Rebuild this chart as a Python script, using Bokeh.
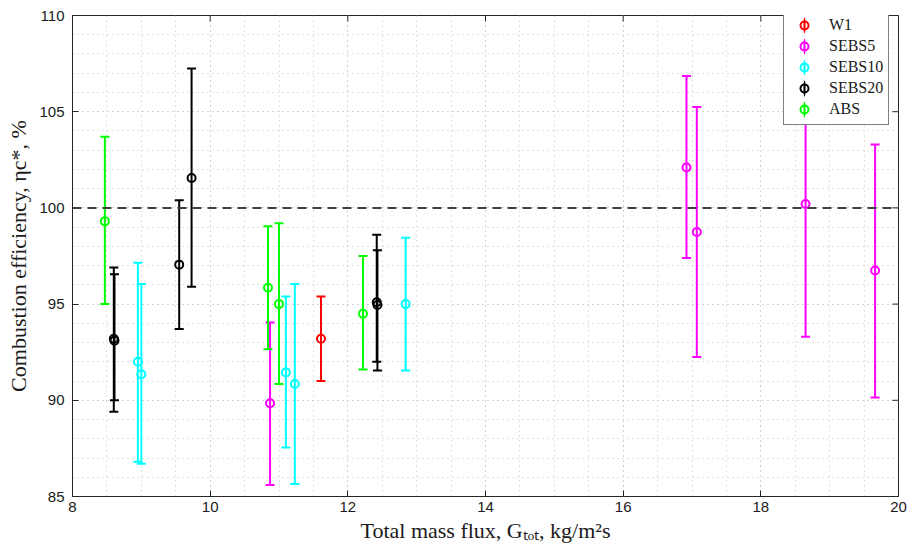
import math
from bokeh.plotting import figure
from bokeh.models import (ColumnDataSource, Span, Legend, LegendItem,
                          FixedTicker, Range1d)
from bokeh.embed import file_html
from bokeh.resources import INLINE

# ---- data ----
w1_x = [11.61]
w1_y = [93.2]
w1_lo = [91.0]
w1_hi = [95.4]

sebs5_x = [10.87, 16.92, 17.07, 18.65, 19.66]
sebs5_y = [89.85, 102.1, 98.75, 100.2, 96.75]
sebs5_lo = [85.6, 97.4, 92.25, 93.3, 90.15]
sebs5_hi = [94.05, 106.85, 105.25, 107.1, 103.3]

sebs10_x = [8.95, 9.0, 11.1, 11.23, 12.84]
sebs10_y = [92.0, 91.35, 91.45, 90.85, 95.0]
sebs10_lo = [86.8, 86.7, 87.55, 85.65, 91.55]
sebs10_hi = [97.15, 96.05, 95.4, 96.05, 98.45]

sebs20_x = [8.6, 8.61, 9.55, 9.73, 12.42, 12.43]
sebs20_y = [93.2, 93.1, 97.05, 101.55, 95.1, 94.95]
sebs20_lo = [89.4, 90.0, 93.7, 95.9, 92.0, 91.55]
sebs20_hi = [96.9, 96.55, 100.4, 107.25, 98.6, 97.8]

abs_x = [8.47, 10.84, 11.0, 12.22]
abs_y = [99.3, 95.85, 95.0, 94.5]
abs_lo = [95.0, 92.65, 90.85, 91.6]
abs_hi = [103.7, 99.05, 99.2, 97.5]

series_names = ["W1", "SEBS5", "SEBS10", "SEBS20", "ABS"]
series_colors = ["#ff0000", "#ff00ff", "#00ffff", "#000000", "#00ff00"]
series_data = [
    (w1_x, w1_y, w1_lo, w1_hi),
    (sebs5_x, sebs5_y, sebs5_lo, sebs5_hi),
    (sebs10_x, sebs10_y, sebs10_lo, sebs10_hi),
    (sebs20_x, sebs20_y, sebs20_lo, sebs20_hi),
    (abs_x, abs_y, abs_lo, abs_hi),
]

x_min, x_max = 8, 20
y_min, y_max = 85, 110
x_ticks = [8, 10, 12, 14, 16, 18, 20]
y_ticks = [85, 90, 95, 100, 105, 110]
x_minor = [v / 2 for v in range(16, 41)]
y_minor = list(range(85, 111))
reference_level = 100

x_label = "Total mass flux, G\u209c\u2092\u209c, kg/m\u00b2s"
y_label = "Combustion efficiency, \u03b7c*, %"

AX = "#262626"
GRID = "#c4c4c4"

p = figure(width=909, height=550, output_backend="svg", toolbar_location=None,
           x_range=Range1d(x_min, x_max), y_range=Range1d(y_min, y_max),
           min_border_left=72, min_border_right=11, min_border_top=15,
           min_border_bottom=54)
p.outline_line_color = AX
p.outline_line_width = 1
p.background_fill_color = "white"
p.border_fill_color = "white"

for ax, ticks, minor in ((p.xaxis[0], x_ticks, x_minor), (p.yaxis[0], y_ticks, y_minor)):
    ax.ticker = FixedTicker(ticks=ticks, minor_ticks=minor)
    ax.major_tick_in = 6
    ax.major_tick_out = 0
    ax.minor_tick_in = 0
    ax.minor_tick_out = 0
    ax.axis_line_color = AX
    ax.major_tick_line_color = AX
    ax.major_label_text_font = "Liberation Sans"
    ax.major_label_text_font_size = "15px"
    ax.major_label_text_color = "#1a1a1a"
    ax.axis_label_text_font = "Liberation Serif"
    ax.axis_label_text_font_size = "22px"
    ax.axis_label_text_font_style = "normal"
    ax.axis_label_text_color = "#1a1a1a"

p.xaxis.axis_label = x_label
p.yaxis.axis_label = y_label
p.xaxis.major_label_standoff = 5
p.yaxis.major_label_standoff = 8
p.xaxis.axis_label_standoff = 3
p.yaxis.axis_label_standoff = 5

p.xgrid.grid_line_color = GRID
p.xgrid.grid_line_dash = "1 4"
p.xgrid.minor_grid_line_color = GRID
p.xgrid.minor_grid_line_dash = "1 4"
p.ygrid.grid_line_color = GRID
p.ygrid.grid_line_dash = "1 4"
p.ygrid.minor_grid_line_color = GRID
p.ygrid.minor_grid_line_dash = "1 4"

# inward tick marks on the mirrored (right / top) edges of the box
p.scatter(x=[x_max] * len(y_ticks), y=y_ticks, marker="dash", size=12,
          line_color=AX, line_width=1)
p.scatter(x=x_ticks, y=[y_max] * len(x_ticks), marker="dash", size=12,
          angle=math.pi / 2, line_color=AX, line_width=1)

p.add_layout(Span(location=reference_level, dimension="width", line_color="#404040",
                  line_width=2, line_dash="9 6"))

items = []
for name, color, (xs, ys, lo, hi) in zip(series_names, series_colors, series_data):
    src = ColumnDataSource(dict(x=xs, y=ys, lo=lo, hi=hi))
    p.segment(x0="x", y0="lo", x1="x", y1="hi", source=src, line_color=color, line_width=2)
    p.scatter(x="x", y="lo", source=src, marker="dash", size=9, line_color=color, line_width=2)
    p.scatter(x="x", y="hi", source=src, marker="dash", size=9, line_color=color, line_width=2)
    p.scatter(x="x", y="y", source=src, marker="circle", size=8, line_color=color,
              line_width=2, fill_color=None)
    # legend-only glyphs (error bar icon: thin vertical bar + open circle)
    lsrc = ColumnDataSource(dict(x=[float("nan")], y=[float("nan")]))
    bar = p.ellipse(x="x", y="y", width=2.5, height=18, width_units="screen",
                    height_units="screen", source=lsrc, fill_color=color, line_color=None)
    dot = p.scatter(x="x", y="y", source=lsrc, marker="circle", size=8, line_color=color,
                    line_width=2, fill_color=None)
    items.append(LegendItem(label=name, renderers=[bar, dot]))

legend = Legend(items=items, location=(711, 371), border_line_color="#000000",
                border_line_width=1, background_fill_alpha=1.0,
                label_text_font="Liberation Serif", label_text_font_size="16px",
                label_text_color="#1a1a1a", glyph_width=30, glyph_height=20,
                label_height=20, spacing=1, padding=5, label_standoff=10, margin=0)
p.add_layout(legend, "center")

open("out.html", "w").write(file_html(p, INLINE))
